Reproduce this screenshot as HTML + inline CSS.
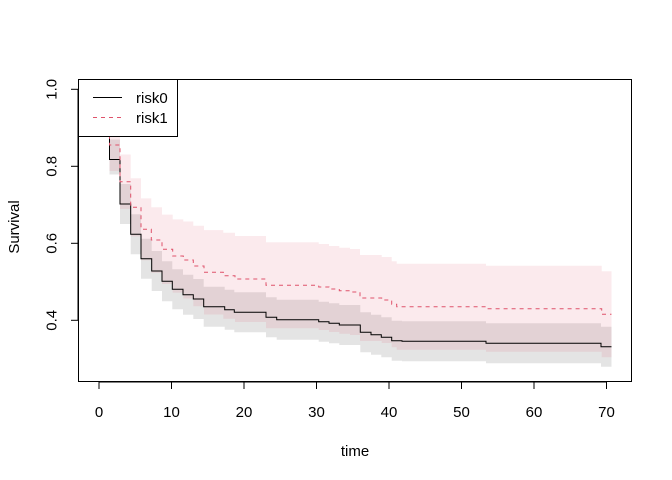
<!DOCTYPE html>
<html><head><meta charset="utf-8"><style>
html,body{margin:0;padding:0;background:#fff;}
svg{display:block;font-family:"Liberation Sans",Arial,sans-serif;}
</style></head><body>
<svg id="s" width="672" height="480" viewBox="0 0 672 480" xmlns="http://www.w3.org/2000/svg">
<g id="bands"></g>
<g id="lines"></g>
<rect x="78.5" y="79.5" width="553" height="302" fill="none" stroke="#000" stroke-width="1"/>
<g stroke="#000" stroke-width="1">
<line x1="99" y1="382" x2="606.7" y2="382"/>
<line x1="99" y1="382" x2="99" y2="389"/>
<line x1="171.5" y1="382" x2="171.5" y2="389"/>
<line x1="244" y1="382" x2="244" y2="389"/>
<line x1="316.5" y1="382" x2="316.5" y2="389"/>
<line x1="389" y1="382" x2="389" y2="389"/>
<line x1="461.5" y1="382" x2="461.5" y2="389"/>
<line x1="534" y1="382" x2="534" y2="389"/>
<line x1="606.5" y1="382" x2="606.5" y2="389"/>
<line x1="78" y1="89.3" x2="78" y2="320.3"/>
<line x1="71" y1="89.3" x2="78" y2="89.3"/>
<line x1="71" y1="166.3" x2="78" y2="166.3"/>
<line x1="71" y1="243.3" x2="78" y2="243.3"/>
<line x1="71" y1="320.3" x2="78" y2="320.3"/>
</g>
<g font-size="15" text-anchor="middle" fill="#000">
<text x="99" y="417">0</text><text x="171.5" y="417">10</text><text x="244" y="417">20</text>
<text x="316.5" y="417">30</text><text x="389" y="417">40</text><text x="461.5" y="417">50</text>
<text x="534" y="417">60</text><text x="606.5" y="417">70</text>
<text x="355" y="456">time</text>
<text transform="translate(56.5,89.3) rotate(-90)">1.0</text>
<text transform="translate(56.5,166.3) rotate(-90)">0.8</text>
<text transform="translate(56.5,243.3) rotate(-90)">0.6</text>
<text transform="translate(56.5,320.3) rotate(-90)">0.4</text>
<text transform="translate(19,227) rotate(-90)">Survival</text>
</g>
<rect x="78.5" y="79.5" width="99" height="57" fill="#fff" stroke="#000" stroke-width="1"/>
<line x1="93" y1="97.5" x2="122" y2="97.5" stroke="#000" stroke-width="1"/>
<line x1="93" y1="117.5" x2="122" y2="117.5" stroke="#DF536B" stroke-width="1" stroke-dasharray="4,4"/>
<g font-size="15" fill="#000"><text x="136" y="103">risk0</text><text x="136" y="123">risk1</text></g>
</svg>
<script>
var b=[[99,89.3],[109.5,159.5],[120,204],[130.7,234.3],[141,258.7],[151.7,271],[162,281.3],[172.3,289.3],[183,294.7],[193.3,299],[203.7,306.7],[224.7,309.7],[234.3,312.3],[266,317.3],[276.7,319.7],[318.7,321.7],[329,323.3],[339.3,325],[360.3,332.3],[371,334.7],[381.3,337.3],[391.7,340.7],[402,341.3],[486,343.3],[601,346.7]];
var r=[[99,89.3],[109.5,145],[120,181.7],[130.7,207.3],[141,229.3],[151.3,240],[162,249.3],[172.7,256],[183.3,260],[193.3,266],[204,272.3],[223.3,275.7],[235,279],[266,285.3],[318.7,287],[329,289],[339.3,290.7],[350,292],[360,298],[381.7,300],[391.7,304.3],[396.7,306.7],[486,308.7],[601.7,314.3]];
var END=611.5;
function band(a,up,lo){var pts=[];for(var i=0;i<a.length;i++){var x0=a[i][0],x1=i+1<a.length?a[i+1][0]:END;pts.push([x0,x1,a[i][1]-up(a[i]),a[i][1]+lo(a[i])]);}
var d='';pts.forEach(function(p,i){d+=(i?'L':'M')+p[0]+','+p[2]+'L'+p[1]+','+p[2];});
for(var i=pts.length-1;i>=0;i--){d+='L'+pts[i][1]+','+pts[i][3]+'L'+pts[i][0]+','+pts[i][3];}return d+'Z';}
var s1=b.slice(1),s2=r.slice(1);
function rh(p){var t=(p[0]-99)/7.25;return Math.min(43,26+1.3*Math.max(0,t-2));}
var g=document.getElementById('bands');
g.innerHTML='<path d="'+band(s1,function(){return 20},function(p){return p[0]<115?15:20})+'" fill="#000" fill-opacity="0.105"/>'+
'<path d="'+band(s2,rh,rh)+'" fill="#DF536B" fill-opacity="0.12"/>';
var l=document.getElementById('lines');
function ln(a){var d='M'+a[0][0]+','+a[0][1];for(var i=1;i<a.length;i++){d+='L'+a[i][0]+','+a[i-1][1]+'L'+a[i][0]+','+a[i][1];}d+='L'+END+','+a[a.length-1][1];return d;}
l.innerHTML='<path d="'+ln(b)+'" fill="none" stroke="#000" stroke-width="1"/>'+
'<path d="'+ln(r)+'" fill="none" stroke="#DF536B" stroke-width="1" stroke-dasharray="4,4"/>';
</script>
</body></html>
